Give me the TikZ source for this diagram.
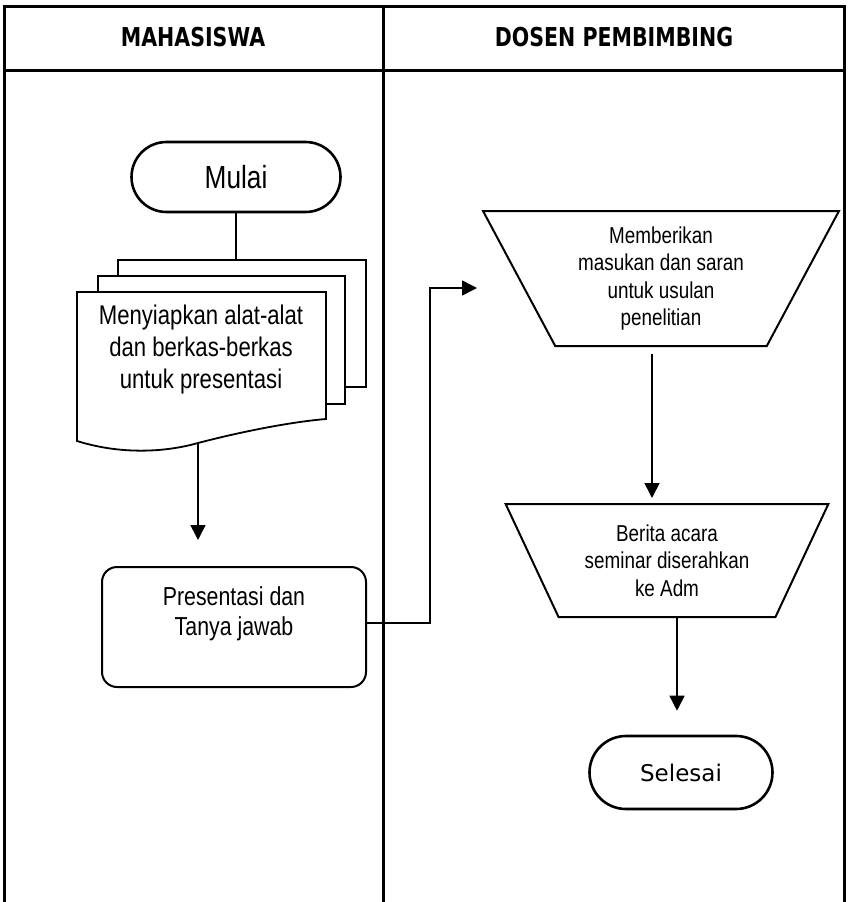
\documentclass[tikz,border=0pt]{standalone}
\usepackage{fontspec}
\setmainfont{Liberation Sans}[FakeStretch=0.82]
\newfontfamily\headfont{DejaVu Sans}[FakeStretch=0.79]
\newfontfamily\termfont{DejaVu Sans}
\usetikzlibrary{shapes.geometric,arrows.meta}

\begin{document}
\begin{tikzpicture}[x=1pt,y=-1pt,
					thick,
					>={Triangle[length=15pt,width=15pt]},
					lane line/.style={line width=3pt},
					head node/.style={font=\headfont\bfseries\fontsize{26}{30}\selectfont},
					term node/.style={rectangle,draw,line width=2.6pt,inner sep=0pt},
					proc node/.style={rectangle,rounded corners=15pt,draw,line width=2pt,
						minimum width=264pt,minimum height=120pt,inner sep=0pt},
					man node/.style={trapezium,shape border rotate=180,
						trapezium left angle=62,trapezium right angle=62,trapezium stretches=true,
						draw,line width=2pt,align=center,font=\fontsize{23}{27.5}\selectfont},
					page/.style={line width=1.8pt},
					flow/.style={->,line width=1.6pt}]

  \useasboundingbox (0,0) rectangle (847,902);

  % lanes
  \draw[lane line] (4,902) -- (4,6) -- (844,6) -- (844,902);
  \draw[lane line] (383,6) -- (383,902);
  \draw[lane line] (4,70) -- (844,70);
  \node[head node] (mhs) at (193,37) {MAHASISWA};
  \node[head node] (dsn) at (614,37) {DOSEN PEMBIMBING};

  \node[term node,minimum width=209pt,minimum height=70pt,rounded corners=35pt,
        font=\fontsize{32}{36}\selectfont] (mulai) at (236,177) {Mulai};

  % multi document
  \draw[page] (118,276) -- (118,260) coordinate (prep top) -- (366,260) -- (366,387) -- (345,387);
  \draw[page] (98,292) -- (98,276) -- (345,276) -- (345,404) -- (326,404);
  \draw[page] (326,419) .. controls (290,422) and (240,432) .. (198,443) coordinate (prep out)
      .. controls (170,451) and (125,456) .. (77,441) -- (77,292) -- (326,292) -- cycle;
  \node[align=center,font=\fontsize{27}{32}\selectfont] (prep) at (201,350)
       {Menyiapkan alat-alat\\dan berkas-berkas\\untuk presentasi};
  \coordinate (prep in) at (236,260);

  \node[proc node,font=\fontsize{26}{30}\selectfont] (pres) at (234,627)
       {\parbox[c][80pt][t]{250pt}{\centering Presentasi dan\\Tanya jawab}};

  \node[man node,minimum width=356pt,minimum height=135pt] (memb) at (661,278.5)
       {Memberikan\\masukan dan saran\\untuk usulan\\penelitian};
  \coordinate (memb in) at (477,288);

  \node[man node,minimum width=323pt,minimum height=113pt] (berita) at (667,560.5)
       {Berita acara\\seminar diserahkan\\ke Adm};

  \node[term node,minimum width=183pt,minimum height=73pt,rounded corners=36.5pt,
        font=\termfont\fontsize{23}{27}\selectfont] (selesai) at (681,772.5) {Selesai};

  % connectors
  \draw[line width=2pt] (mulai.south) -- (prep in);
  \draw[flow,shorten >=26pt] (prep out) -- (prep out |- pres.north);
  \draw[flow] ([yshift=4pt]pres.east) -- ++(63,0) |- (memb in);
  \draw[flow,shorten <=75.5pt,shorten >=62.5pt] ([xshift=-9pt]memb.center) -- ([xshift=-15pt]berita.center);
  \draw[flow,shorten <=56.5pt,shorten >=24pt] ([xshift=10pt]berita.center) -- ([xshift=10pt]berita.center |- selesai.north);
\end{tikzpicture}
\end{document}
